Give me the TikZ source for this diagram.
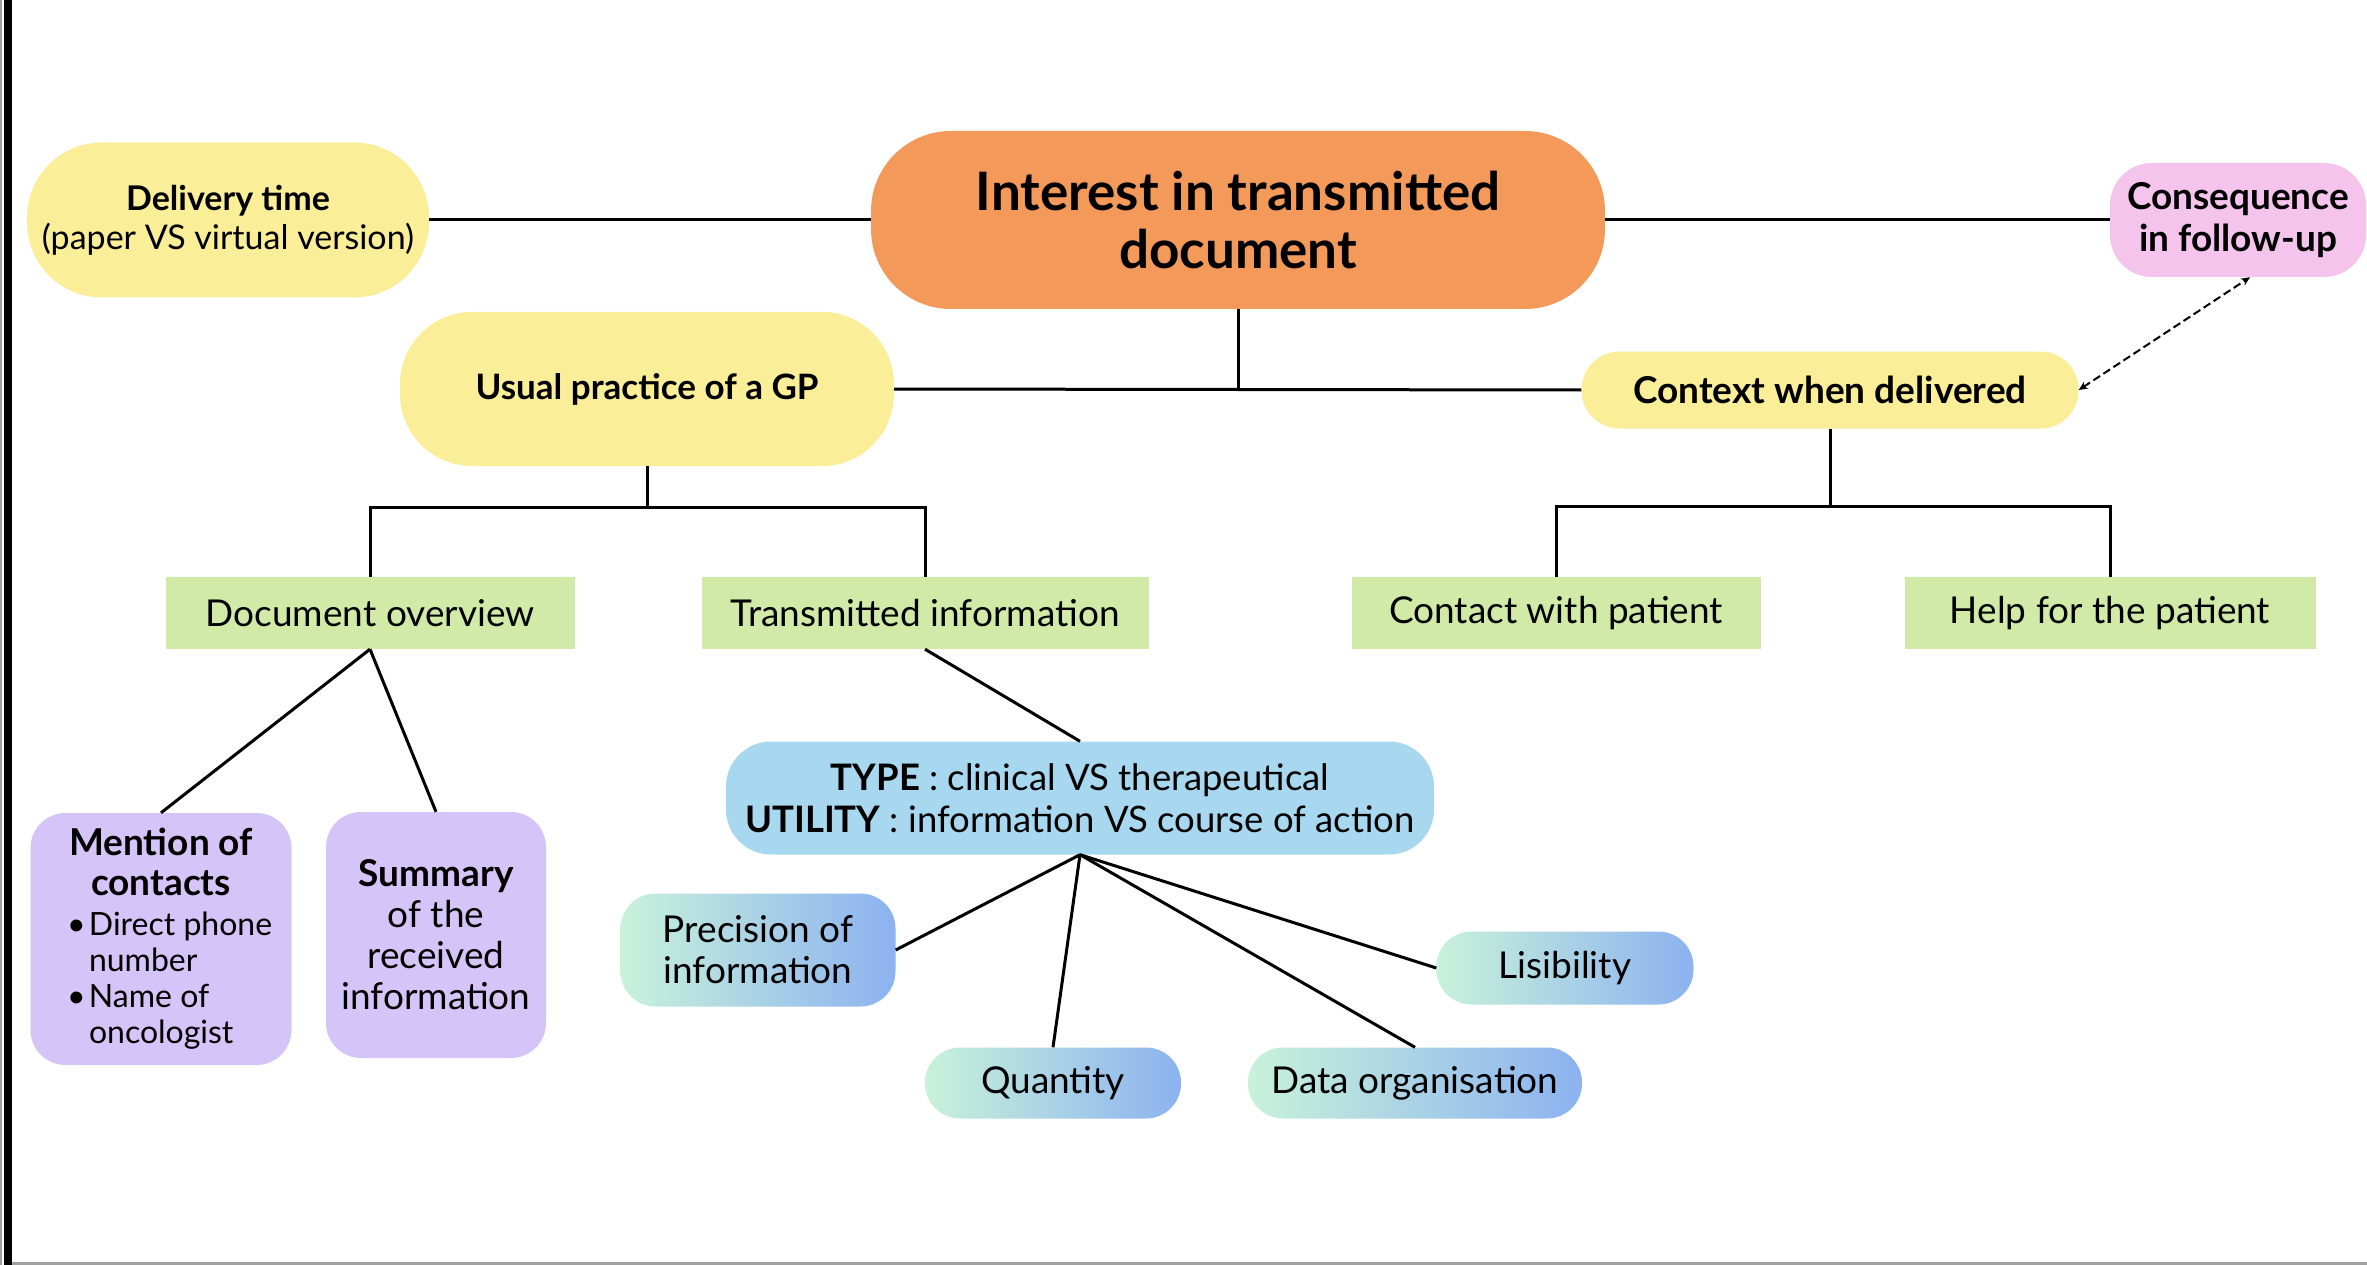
\documentclass[tikz,border=0pt]{standalone}
\usepackage{fontspec}
\setmainfont{Lato}
\usetikzlibrary{calc,arrows.meta}
\definecolor{orangeC}{RGB}{243,154,90}
\definecolor{yellowC}{RGB}{251,238,152}
\definecolor{pinkC}{RGB}{244,196,236}
\definecolor{greenC}{RGB}{210,234,168}
\definecolor{purpleC}{RGB}{213,196,247}
\definecolor{blueC}{RGB}{168,216,240}
\definecolor{mintC}{RGB}{200,242,218}
\definecolor{blueG}{RGB}{140,178,240}
\definecolor{frameC}{RGB}{160,160,160}
\newcommand\mlistline[2]{\makebox[200pt][l]{\fontsize{32}{35}\selectfont\hspace{6pt}\makebox[22pt][l]{#1}#2}}
\begin{document}
\begin{tikzpicture}[x=1pt,y=-1pt,
  every node/.style={inner sep=0pt, align=center, text=black},
  conn/.style={line width=3pt, black},
  dconn/.style={line width=2pt, black, dash pattern=on 8pt off 4pt, {Stealth[length=9pt,width=8pt]}-{Stealth[length=9pt,width=8pt]}},
  ybox/.style={fill=yellowC},
  gbox/.style={fill=greenC, font=\fontsize{37}{42}\selectfont},
  pbox/.style={fill=purpleC, rounded corners=35pt},
  gradbox/.style={left color=mintC, right color=blueG, rounded corners=35pt, font=\fontsize{37}{41}\selectfont}]
% background and frame
\fill[white] (0,0) rectangle (2367,1265);
\useasboundingbox (0,0) rectangle (2367,1265);
\fill[frameC] (0,0) rectangle (2,1265);
\fill[black] (4,0) rectangle (12,1265);
\fill[frameC] (12,1262) rectangle (2367,1265);

% nodes
\node[fill=orangeC, rounded corners=80pt, minimum width=734pt, minimum height=178pt,
  font=\fontsize{53}{58}\bfseries] (main) at (1238,220) {Interest in transmitted\\document};
\node[ybox, rounded corners=75pt, minimum width=402pt, minimum height=155pt,
  font=\fontsize{34}{39}\selectfont] (delivery) at (228,220) {\textbf{Delivery time}\\(paper VS virtual version)};
\node[fill=pinkC, rounded corners=42pt, minimum width=256pt, minimum height=114pt,
  font=\fontsize{37}{42}\bfseries] (cons) at (2238,220) {Consequence\\in follow-up};
\node[ybox, rounded corners=72pt, minimum width=494pt, minimum height=154pt,
  font=\fontsize{35}{40}\bfseries] (usual) at (647,389) {Usual practice of a GP};
\node[ybox, rounded corners=38pt, minimum width=497pt, minimum height=77pt,
  font=\fontsize{37}{40}\bfseries] (context) at (1830,390) {Context when delivered};

\node[gbox, minimum width=409pt, minimum height=72pt] (docov) at (370,613) {Document overview};
\node[gbox, minimum width=447pt, minimum height=72pt] (trans) at (925,613) {Transmitted information};
\node[gbox, minimum width=409pt, minimum height=72pt] (contact) at (1556,613) {Contact with patient};
\node[gbox, minimum width=411pt, minimum height=72pt] (help) at (2110,613) {Help for the patient};

\node[pbox, minimum width=261pt, minimum height=252pt, font=\fontsize{37}{41}\selectfont] (mention) at (161,939)
  {\textbf{Mention of}\\[-1pt]
   \textbf{contacts}\\[-1pt]
   \mlistline{\textbullet}{Direct phone}\\[-5pt]
   \mlistline{}{number}\\[-5pt]
   \mlistline{\textbullet}{Name of}\\[-5pt]
   \mlistline{}{oncologist}};
\node[pbox, minimum width=220pt, minimum height=246pt, font=\fontsize{37}{41}\selectfont] (summary) at (436,935)
  {\textbf{Summary}\\of the\\received\\information};

\node[fill=blueC, rounded corners=45pt, minimum width=708pt, minimum height=113pt,
  font=\fontsize{36.5}{42}\selectfont] (type) at (1080,798)
  {\textbf{TYPE} : clinical VS therapeutical\\\textbf{UTILITY} : information VS course of action};

\node[gradbox, minimum width=275pt, minimum height=113pt] (precision) at (758,950) {Precision of\\information};
\node[gradbox, minimum width=256pt, minimum height=71pt] (quantity) at (1053,1083) {Quantity};
\node[gradbox, minimum width=334pt, minimum height=71pt] (dataorg) at (1415,1083) {Data organisation};
\node[gradbox, minimum width=257pt, minimum height=73pt] (lisib) at (1565,968) {Lisibility};

% connectors
\draw[conn] (delivery.east) -- (main.west);
\draw[conn] (main.east) -- (cons.west);
\draw[conn] (usual.east) -- (context.west);
\draw[conn] (main.south) -- (main.south |- usual.east);
\draw[dconn] (context.east) -- ([xshift=12pt]cons.south);

\coordinate (ub) at ($(usual.south)+(0,41)$);
\draw[conn] (usual.south) -- (ub);
\draw[conn] (docov.north) |- (ub) -| (trans.north);
\coordinate (cb) at ($(context.south)+(0,78)$);
\draw[conn] (context.south) -- (cb);
\draw[conn] (contact.north) |- (cb) -| (help.north);

\draw[conn] (docov.south) -- (mention.north);
\draw[conn] (docov.south) -- (summary.north);
\draw[conn] (trans.south) -- (type.north);

\draw[conn] (type.south) -- (precision.east);
\draw[conn] (type.south) -- (quantity.north);
\draw[conn] (type.south) -- (dataorg.north);
\draw[conn] (type.south) -- (lisib.west);
\end{tikzpicture}
\end{document}
